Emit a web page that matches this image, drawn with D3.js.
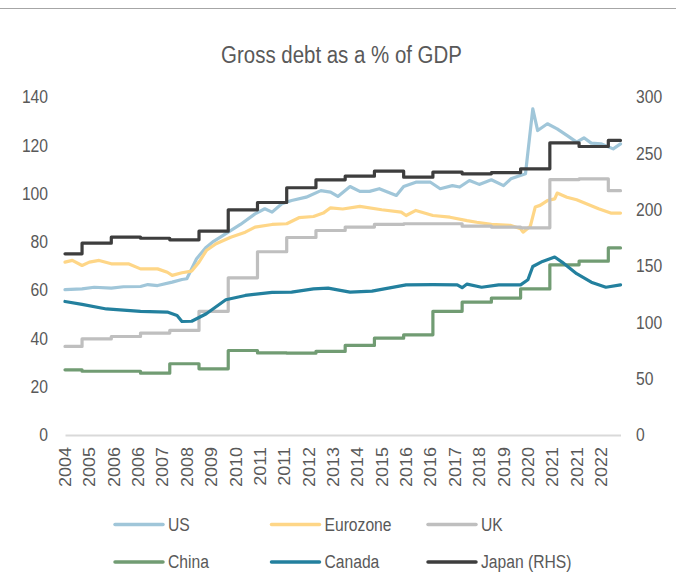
<!DOCTYPE html>
<html>
<head>
<meta charset="utf-8">
<script src="https://cdn.jsdelivr.net/npm/d3@7"></script>
<style>
  html, body { margin: 0; padding: 0; background: #fff; }
  svg text { font-family: "Liberation Sans", Arial, sans-serif; fill: #595959; }
</style>
</head>
<body>
<svg id="chart" width="676" height="582"></svg>
<script>
// ---- Data (monthly axis, first month June 2004) ----
const xTickLabels = ["2004","2005","2006","2006","2007","2008","2009","2010","2011","2011","2012",
  "2013","2014","2015","2016","2016","2017","2018","2019","2020","2021","2021","2022"];
const leftTicks = [0, 20, 40, 60, 80, 100, 120, 140];
const rightTicks = [0, 50, 100, 150, 200, 250, 300];

// Gross debt, % of GDP (left axis)
const us = [
  ["2004-06",60.0],["2005-01",60.3],["2005-06",61.0],["2006-01",60.6],["2006-06",61.2],
  ["2007-01",61.3],["2007-04",62.1],["2007-08",61.7],["2008-02",63.1],["2008-06",64.2],
  ["2008-08",64.5],["2008-12",72.8],["2009-04",77.6],["2009-07",80.0],["2010-01",83.8],
  ["2010-06",87.0],["2010-12",91.4],["2011-04",93.5],["2011-07",92.1],["2011-11",95.6],
  ["2012-03",96.9],["2012-09",98.3],["2013-03",101.0],["2013-07",100.4],["2013-10",98.6],
  ["2014-03",102.7],["2014-07",100.7],["2014-11",100.7],["2015-03",101.8],["2015-10",99.0],
  ["2016-01",102.7],["2016-06",104.5],["2016-12",104.5],["2017-04",101.8],["2017-09",103.1],
  ["2017-12",102.5],["2018-04",105.2],["2018-08",103.6],["2019-01",105.5],["2019-06",103.1],
  ["2019-09",105.9],["2020-03",108.0],["2020-06",134.9],["2020-08",125.9],["2020-12",128.7],
  ["2021-04",126.6],["2021-08",123.9],["2021-12",121.1],["2022-03",122.9],["2022-06",120.7],
  ["2022-10",120.4],["2023-03",118.3],["2023-06",120.4]
];
const eurozone = [
  ["2004-06",71.4],["2004-09",72.1],["2005-01",70.0],["2005-04",71.4],["2005-08",72.1],
  ["2006-01",70.7],["2006-08",70.7],["2007-01",68.6],["2007-08",68.6],["2007-12",67.2],
  ["2008-02",65.9],["2008-06",67.0],["2008-10",67.7],["2009-01",71.4],["2009-04",76.2],
  ["2009-08",79.0],["2010-02",81.7],["2010-08",83.8],["2010-12",85.9],["2011-07",87.0],
  ["2012-01",87.3],["2012-06",89.8],["2012-12",90.3],["2013-04",91.7],["2013-07",93.9],
  ["2013-12",93.4],["2014-07",94.5],["2015-04",93.1],["2015-12",92.1],["2016-02",90.7],
  ["2016-06",92.8],["2017-01",90.7],["2017-08",90.0],["2018-03",88.6],["2018-07",87.9],
  ["2019-01",87.0],["2019-09",86.6],["2020-01",85.2],["2020-02",83.8],["2020-05",86.3],
  ["2020-07",94.2],["2020-09",94.9],["2020-12",96.9],["2021-03",97.6],["2021-04",100.0],
  ["2021-08",98.3],["2021-12",97.2],["2022-04",95.6],["2022-09",93.5],["2023-02",91.7],
  ["2023-06",91.7]
];
const uk = [
  ["2004-06",36.5],["2005-01",39.6],["2006-01",40.6],["2007-01",42.0],["2008-01",43.1],
  ["2009-01",51.0],["2010-01",64.9],["2011-01",75.7],["2012-01",81.6],["2013-01",84.5],
  ["2014-01",85.9],["2015-01",87.0],["2016-01",87.3],["2017-01",87.3],["2018-01",86.3],
  ["2019-01",85.9],["2020-01",85.6],["2021-01",105.6],["2022-01",105.9],["2023-01",101.0],
  ["2023-06",101.0]
];
const china = [
  ["2004-06",26.8],["2005-01",26.2],["2006-01",26.2],["2007-01",25.4],["2008-01",29.3],
  ["2009-01",27.2],["2010-01",34.8],["2011-01",33.8],["2012-01",33.7],["2013-01",34.4],
  ["2014-01",36.9],["2015-01",39.9],["2016-01",41.3],["2017-01",51.0],["2018-01",54.8],
  ["2019-01",56.5],["2020-01",60.3],["2021-01",70.3],["2022-01",71.8],["2023-01",77.3],
  ["2023-06",77.3]
];
const canada = [
  ["2004-06",55.1],["2005-01",53.9],["2005-11",52.0],["2007-01",51.0],["2007-12",50.7],
  ["2008-04",49.3],["2008-06",46.8],["2008-10",46.9],["2009-04",50.0],["2009-12",55.8],
  ["2010-08",57.6],["2011-07",58.9],["2012-03",59.0],["2012-12",60.3],["2013-06",60.6],
  ["2013-11",59.7],["2014-03",59.0],["2014-12",59.4],["2016-02",62.0],["2017-01",62.1],
  ["2017-11",62.0],["2018-01",60.8],["2018-03",62.3],["2018-09",61.0],["2019-04",62.0],
  ["2020-01",62.0],["2020-04",64.1],["2020-06",69.6],["2020-10",71.7],["2021-03",73.5],
  ["2021-06",71.4],["2021-12",66.6],["2022-06",63.1],["2022-12",61.0],["2023-06",62.0]
];
// Japan, right-hand axis
const japan = [
  ["2004-06",160.4],["2005-01",169.8],["2006-01",175.1],["2007-01",174.2],["2008-01",172.8],
  ["2009-01",180.5],["2010-01",199.4],["2011-01",205.9],["2012-01",219.0],["2013-01",226.0],
  ["2014-01",229.3],["2015-01",233.7],["2016-01",228.4],["2017-01",232.8],["2018-01",231.4],
  ["2019-01",232.5],["2020-01",235.8],["2021-01",258.9],["2022-01",255.6],["2023-01",261.0],
  ["2023-06",261.0]
];

// ---- Series table ----
const series = [
  { name: "US",          color: "#a0c6d9", data: us,       axis: "left",  step: false },
  { name: "Eurozone",    color: "#fed687", data: eurozone, axis: "left",  step: false },
  { name: "UK",          color: "#bfbfbf", data: uk,       axis: "left",  step: true },
  { name: "China",       color: "#719c73", data: china,    axis: "left",  step: true },
  { name: "Canada",      color: "#23809e", data: canada,   axis: "left",  step: false },
  { name: "Japan (RHS)", color: "#3d3d3d", data: japan,    axis: "right", step: true }
];

// months elapsed since June 2004
function monthIndex(s) {
  const [y, m] = s.split("-").map(Number);
  return (y - 2004) * 12 + (m - 6);
}

const svg = d3.select("#chart");
const SX = 0.87; // horizontal squeeze applied to lettering

const x = d3.scaleLinear().domain([0, 228]).range([65, 620.5]);
const yLeft = d3.scaleLinear().domain([0, 140]).range([434.5, 96.5]);
const yRight = d3.scaleLinear().domain([0, 300]).range([434.5, 96.5]);

// top rule
svg.append("line").attr("x1", 0).attr("x2", 676).attr("y1", 8.5).attr("y2", 8.5)
  .attr("stroke", "#a6a6a6").attr("stroke-width", 1);

// title
svg.append("text")
  .attr("transform", `translate(341.5,62.5) scale(${SX},1)`)
  .attr("text-anchor", "middle")
  .style("font-size", "23.5px")
  .text("Gross debt as a % of GDP");

// left axis
const gl = svg.append("g").attr("transform", "translate(48,0)")
  .call(d3.axisLeft(yLeft).tickValues(leftTicks).tickSize(0).tickPadding(0));
gl.select(".domain").remove();
gl.selectAll("text")
  .style("font-size", "18px").style("font-family", null)
  .attr("fill", "#595959")
  .attr("x", null).attr("dy", "0.35em")
  .attr("transform", `scale(${SX},1)`);

// right axis
const gr = svg.append("g").attr("transform", "translate(636,0)")
  .call(d3.axisRight(yRight).tickValues(rightTicks).tickSize(0).tickPadding(0));
gr.select(".domain").remove();
gr.selectAll("text")
  .style("font-size", "18px").style("font-family", null)
  .attr("fill", "#595959")
  .attr("x", null).attr("dy", "0.35em")
  .attr("transform", `scale(${SX},1)`);

// bottom axis (category labels every ten months)
const xTickMonths = xTickLabels.map((_, k) => k * 10);
const gb = svg.append("g").attr("transform", "translate(0,435)")
  .call(d3.axisBottom(x).tickValues(xTickMonths).tickFormat((d, i) => xTickLabels[i])
    .tickSize(0).tickSizeOuter(0));
gb.select(".domain").attr("stroke", "#d9d9d9").attr("stroke-width", 2);
gb.selectAll("text")
  .style("font-size", "18px").style("font-family", null)
  .attr("fill", "#595959")
  .attr("text-anchor", "end")
  .attr("y", null).attr("dy", "0.35em")
  .attr("x", -12)
  .attr("transform", `scale(${SX},1) rotate(-90)`);

// lines
const plot = svg.append("g");
series.forEach(s => {
  const yScale = s.axis === "left" ? yLeft : yRight;
  const line = d3.line()
    .x(d => x(monthIndex(d[0])))
    .y(d => yScale(d[1]))
    .curve(s.step ? d3.curveStepAfter : d3.curveLinear);
  plot.append("path")
    .datum(s.data)
    .attr("fill", "none")
    .attr("stroke", s.color)
    .attr("stroke-width", 3.2)
    .attr("stroke-linejoin", "round")
    .attr("stroke-linecap", "round")
    .attr("d", line);
});

// legend
const legend = svg.append("g");
series.forEach((s, i) => {
  const col = i % 3, row = Math.floor(i / 3);
  const lx = 115 + col * 156.5, ly = 524.5 + row * 37.4;
  const g = legend.append("g").attr("transform", `translate(${lx},${ly})`);
  g.append("line").attr("x1", 0).attr("x2", 48).attr("y1", 0).attr("y2", 0)
    .attr("stroke", s.color).attr("stroke-width", 3.5).attr("stroke-linecap", "round");
  g.append("text")
    .attr("transform", `translate(53,6.5) scale(${SX},1)`)
    .style("font-size", "18px")
    .text(s.name);
});
</script>
</body>
</html>
